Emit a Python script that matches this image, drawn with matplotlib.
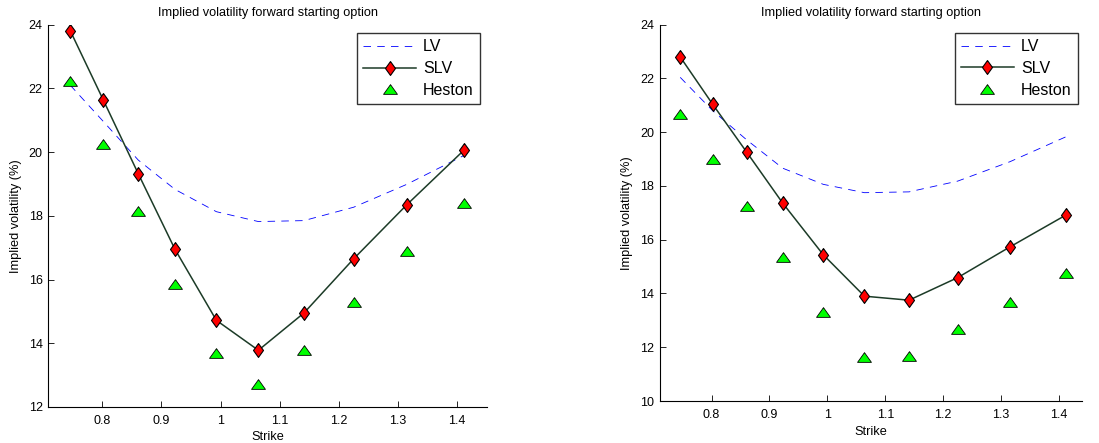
import numpy as np
import matplotlib
matplotlib.use("Agg")
import matplotlib.pyplot as plt

plt.rcParams['font.family'] = ['Liberation Sans', 'DejaVu Sans']

# ========= data =========
strike = [0.746, 0.802, 0.861, 0.923, 0.993, 1.064, 1.141, 1.225, 1.315, 1.412]

lv_1 = [22.1, 20.96, 19.75, 18.83, 18.13, 17.82, 17.85, 18.27, 18.99, 19.9]
slv_1 = [23.81, 21.63, 19.32, 16.95, 14.72, 13.78, 14.95, 16.65, 18.35, 20.07]
heston_1 = [22.23, 20.25, 18.14, 15.87, 13.70, 12.72, 13.78, 15.31, 16.90, 18.41]

lv_2 = [22.04, 20.8, 19.71, 18.66, 18.06, 17.75, 17.78, 18.18, 18.90, 19.83]
slv_2 = [22.80, 21.04, 19.25, 17.36, 15.44, 13.90, 13.75, 14.59, 15.73, 16.92]
heston_2 = [20.67, 19.0, 17.24, 15.35, 13.31, 11.65, 11.69, 12.67, 13.69, 14.76]

TITLE = "Implied volatility forward starting option"
LABELS = ["LV", "SLV", "Heston"]

# marker shapes (MATLAB-like)
DIAMOND = [(0, 1), (0.72, 0), (0, -1), (-0.72, 0), (0, 1)]
TRIANGLE = [(0, 0.7), (1, -0.7), (-1, -0.7), (0, 0.7)]
SLV_COLOR = "#1c3b27"


def draw(ax, lv, slv, hes, ylim, yticks, xlim, leg_anchor):
    ax.plot(strike, lv, ls=(0, (9, 7.5)), color="blue", lw=0.6, label=LABELS[0])
    ax.plot(strike, slv, "-", color=SLV_COLOR, lw=1.1, marker=DIAMOND, ms=10,
            mfc="red", mec="black", mew=0.8, label=LABELS[1])
    ax.plot(strike, hes, ls="none", marker=TRIANGLE, ms=10,
            mfc="#00ff00", mec="black", mew=0.6, label=LABELS[2])
    ax.set_xlim(*xlim)
    ax.set_ylim(*ylim)
    ax.set_yticks(yticks)
    ax.set_xticks([0.8, 0.9, 1.0, 1.1, 1.2, 1.3, 1.4])
    ax.set_xticklabels(["0.8", "0.9", "1", "1.1", "1.2", "1.3", "1.4"])
    ax.spines["top"].set_visible(False)
    ax.spines["right"].set_visible(False)
    for s in ("left", "bottom"):
        ax.spines[s].set_linewidth(0.8)
    ax.tick_params(direction="in", length=4, width=0.6, labelsize=9)
    ax.tick_params(axis="x", pad=6)
    ax.tick_params(axis="y", pad=4)
    ax.set_title(TITLE, fontsize=9.2, pad=6)
    ax.set_xlabel("Strike", fontsize=9.2, labelpad=3)
    ax.set_ylabel("Implied volatility (%)", fontsize=9.2, labelpad=5)
    leg = ax.legend(loc="upper right", bbox_to_anchor=leg_anchor, fontsize=11.5,
                    frameon=True, fancybox=False, edgecolor="black",
                    handlelength=3.3, handletextpad=0.45, labelspacing=0.42,
                    borderpad=0.4, borderaxespad=0)
    leg.get_frame().set_linewidth(1.0)


fig = plt.figure(figsize=(10.99, 4.43), dpi=100)
ax1 = fig.add_axes([0.0440, 0.0813, 0.3989, 0.8630])
ax2 = fig.add_axes([0.6005, 0.0948, 0.3837, 0.8495])

draw(ax1, lv_1, slv_1, heston_1, (12, 24), [12, 14, 16, 18, 20, 22, 24],
     (0.709, 1.45), (0.985, 0.978))
draw(ax2, lv_2, slv_2, heston_2, (10, 24), [10, 12, 14, 16, 18, 20, 22, 24],
     (0.711, 1.439), (0.991, 0.978))

fig.savefig("out.png", dpi=100)
